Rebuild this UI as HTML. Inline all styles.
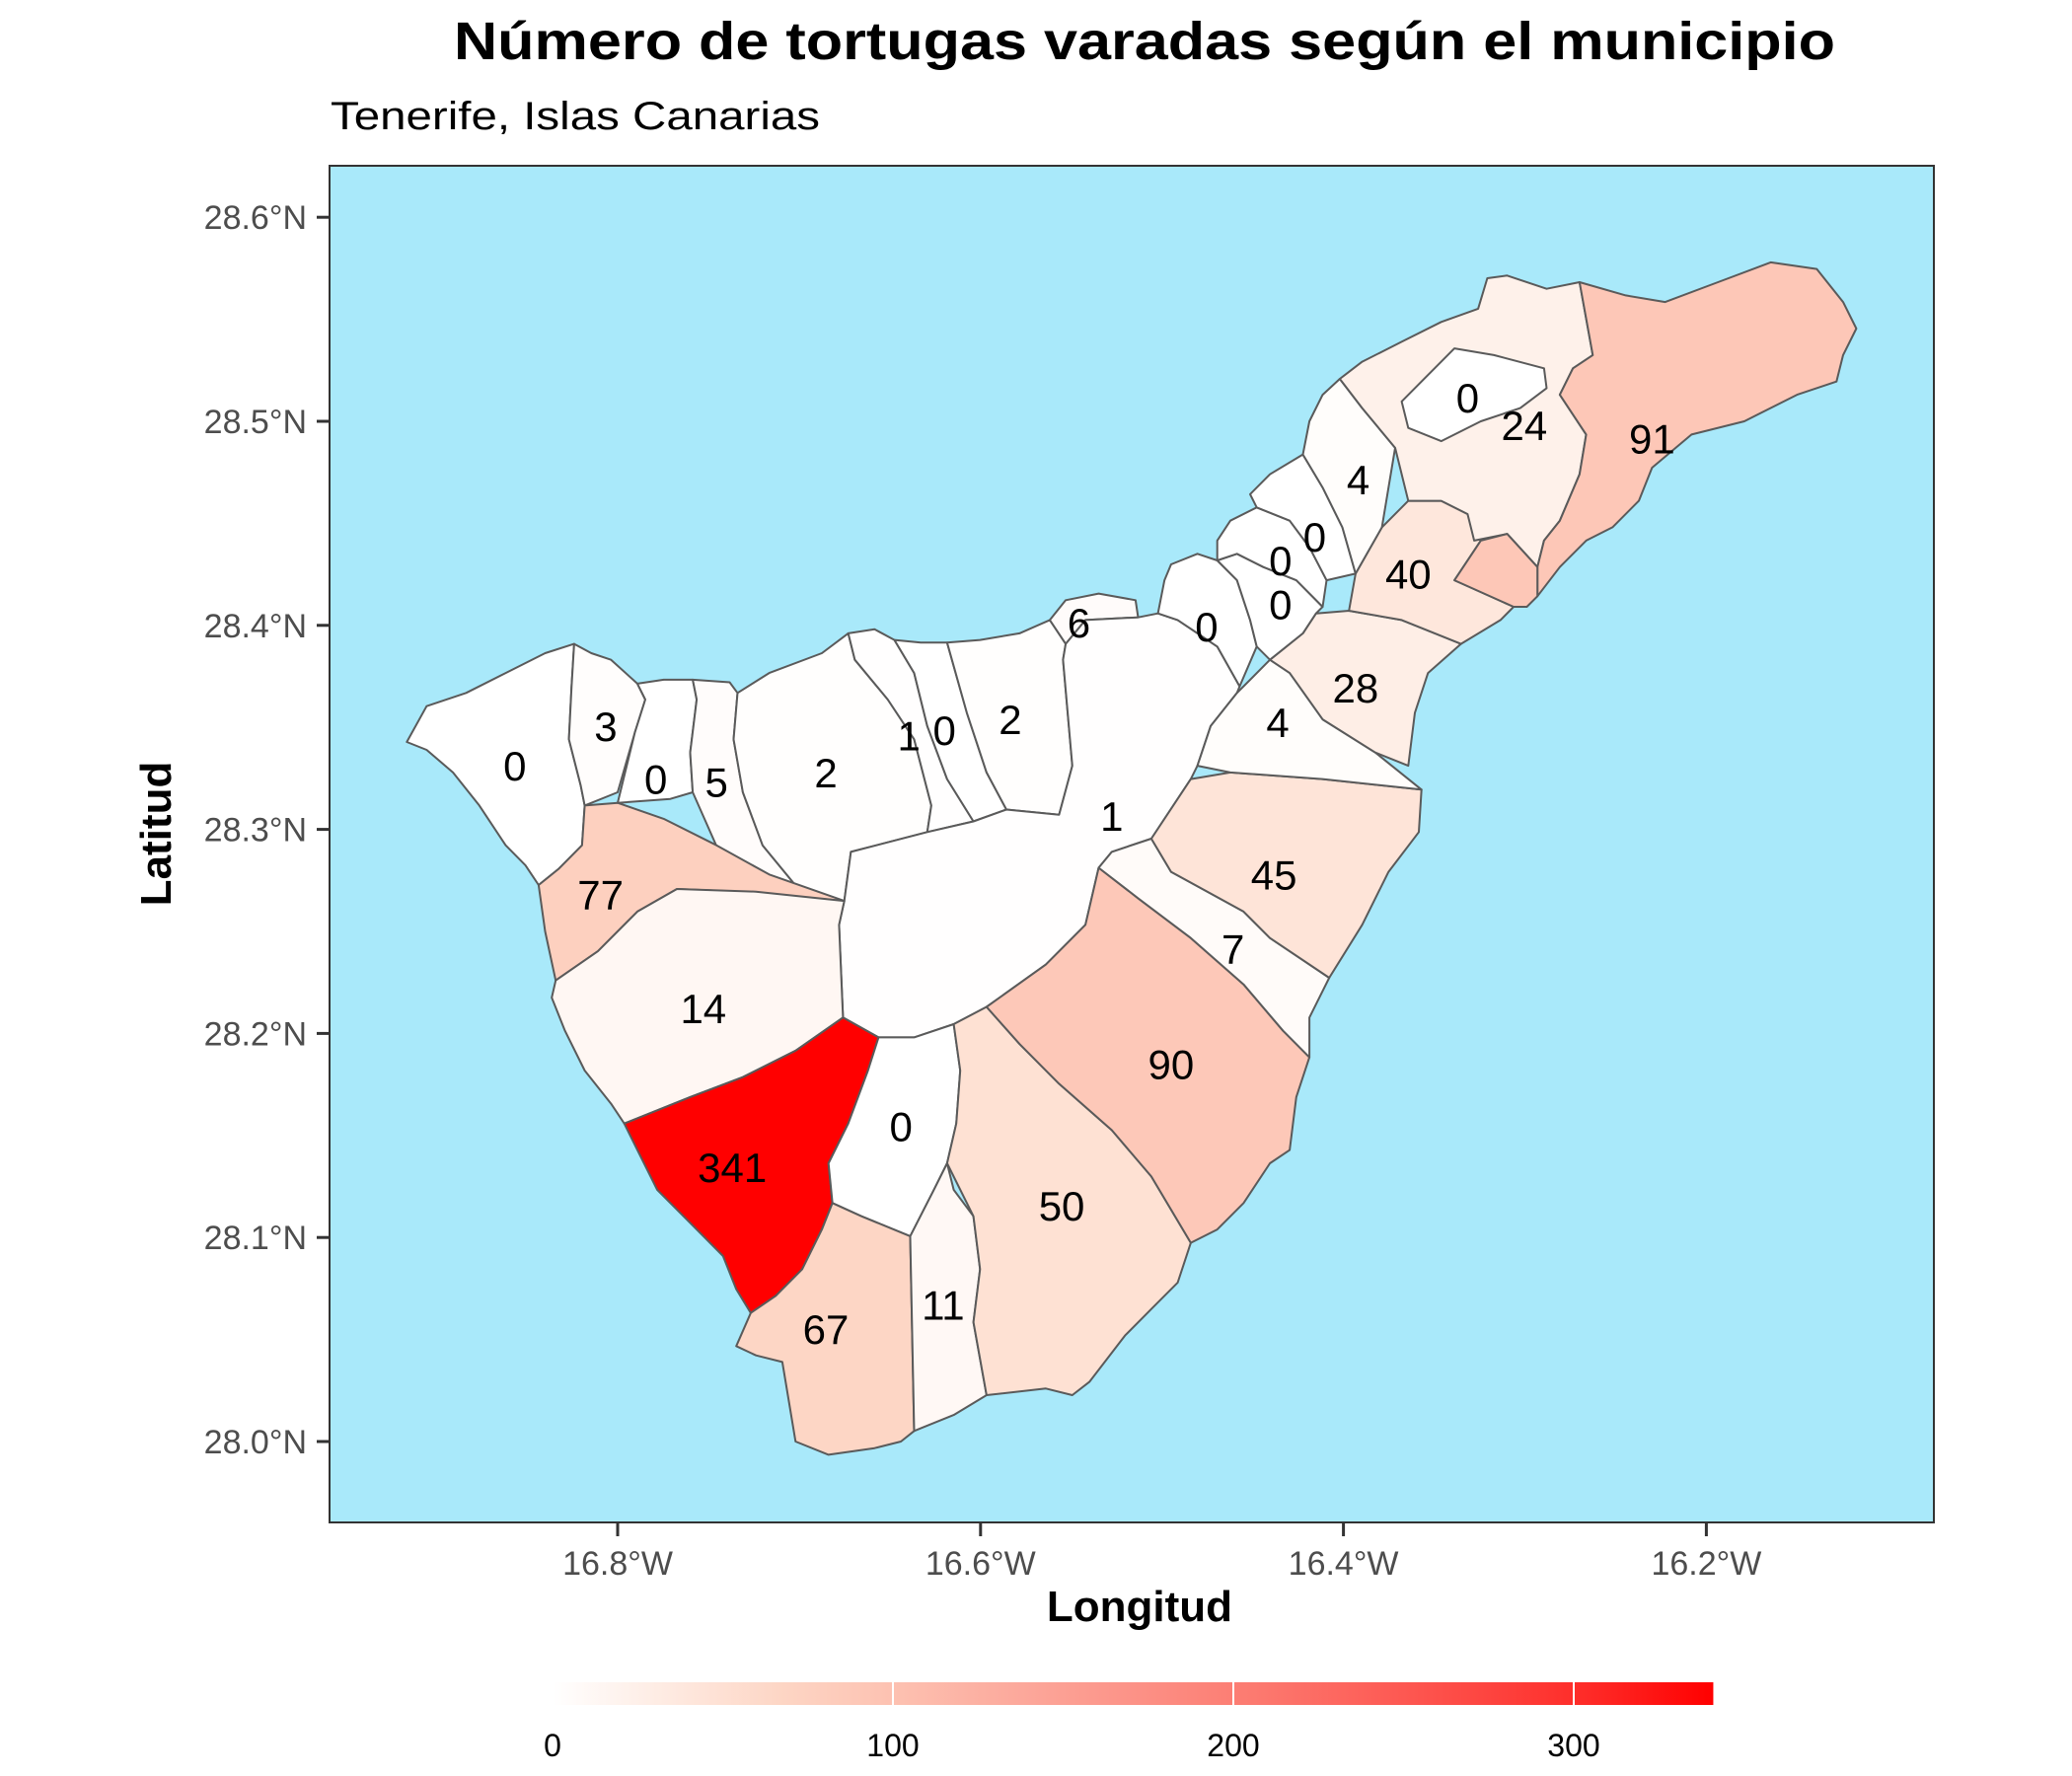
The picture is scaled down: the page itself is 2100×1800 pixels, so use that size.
<!DOCTYPE html>
<html><head><meta charset="utf-8"><style>
html,body{margin:0;padding:0;background:#fff}
svg{display:block}
text{font-family:"Liberation Sans",sans-serif}
</style></head><body>
<svg id="chart" width="2100" height="1800" viewBox="0 0 2100 1800" xmlns="http://www.w3.org/2000/svg">
<text x="1160" y="60" text-anchor="middle" font-size="54" font-weight="bold" textLength="1400" lengthAdjust="spacingAndGlyphs">Número de tortugas varadas según el municipio</text>
<text x="335" y="131" font-size="40" textLength="496" lengthAdjust="spacingAndGlyphs">Tenerife, Islas Canarias</text>
<rect x="334" y="168" width="1626" height="1375" fill="#a9e9fa" stroke="#333" stroke-width="2"/>
<g id="muni"></g>
<g id="labels"></g>
<g id="axes"></g>
<text x="1155" y="1643" text-anchor="middle" font-size="44" font-weight="bold">Longitud</text>
<text transform="translate(173,845) rotate(-90)" text-anchor="middle" font-size="44" font-weight="bold">Latitud</text>
<defs><linearGradient id="lg" x1="0" x2="1" y1="0" y2="0"></linearGradient></defs>
<g id="legend"></g>
</svg>
<script>
// data
const municipalities = ["Buenavista","Los Silos","Garachico","El Tanque","Icod","La Guancha","San Juan Rambla","Los Realejos","Puerto Cruz","La Orotava","Santiago Teide","Guia Isora","Adeje","Vilaflor","Arona","San Miguel","Granadilla","Arico","Fasnia","Guimar","Arafo","Candelaria","El Rosario","Tacoronte","El Sauzal","La Matanza","La Victoria","Santa Ursula","Tegueste","La Laguna","Santa Cruz","Santa Cruz exclave"];
const counts = [0,3,0,5,2,1,0,2,6,1,77,14,341,0,67,11,50,90,7,45,4,28,40,0,0,0,0,4,0,24,91,91];
const showLabel = [1,1,1,1,1,1,1,1,1,1,1,1,1,1,1,1,1,1,1,1,1,1,1,1,1,1,1,1,1,1,1,0];
const lonTicks = [-16.8,-16.6,-16.4,-16.2];
const latTicks = [28.0,28.1,28.2,28.3,28.4,28.5,28.6];
const legendTicks = [0,100,200,300];
const maxCount = 341;

// geometry (traced reference outline, reference pixel space -> lon/lat)
const refLon = d => -16.8 + (d-465)/1377;
const refLat = d => 28 + (1090-d)/1540;
const shapesRef = [
[[305,562],[320,535],[350,525],[380,510],[410,495],[432,488],[430,520],[428,560],[437,595],[440,610],[438,640],[420,658],[405,670],[395,655],[380,640],[360,610],[340,585],[320,568]],
[[432,488],[445,495],[460,500],[480,518],[486,530],[478,555],[465,600],[440,610],[437,595],[428,560],[430,520]],
[[486,530],[480,518],[500,515],[522,515],[525,530],[520,570],[522,600],[505,605],[465,608],[478,555]],
[[525,530],[522,515],[550,517],[556,525],[553,560],[560,600],[575,640],[608,680],[575,668],[542,645],[522,600],[520,570]],
[[556,525],[580,510],[620,495],[640,480],[645,500],[670,530],[690,560],[703,610],[700,630],[642,645],[637,682],[608,680],[575,640],[560,600],[553,560]],
[[640,480],[660,477],[675,485],[690,510],[700,550],[715,590],[735,622],[700,630],[703,610],[690,560],[670,530],[645,500]],
[[675,485],[695,487],[715,487],[730,540],[745,585],[760,613],[735,622],[715,590],[700,550],[690,510]],
[[715,487],[740,485],[770,480],[793,470],[805,488],[803,500],[810,580],[800,617],[760,613],[745,585],[730,540]],
[[793,470],[805,455],[830,450],[858,455],[860,468],[820,470],[805,488]],
[[637,682],[642,645],[700,630],[735,622],[760,613],[800,617],[810,580],[803,500],[805,488],[820,470],[860,468],[875,465],[890,470],[920,490],[937,520],[935,525],[915,550],[905,580],[900,590],[870,635],[840,645],[830,657],[820,700],[790,730],[745,762],[720,775],[690,785],[663,785],[636,770],[633,700]],
[[440,610],[465,608],[500,620],[540,640],[580,662],[637,682],[560,675],[510,673],[480,690],[450,720],[418,742],[410,705],[405,670],[420,658],[438,640]],
[[418,742],[450,720],[480,690],[510,673],[570,675],[637,682],[633,700],[636,770],[600,795],[560,815],[520,830],[470,850],[460,835],[440,810],[425,780],[415,755]],
[[470,850],[520,830],[560,815],[600,795],[636,770],[663,785],[655,810],[640,850],[625,880],[628,910],[620,930],[605,960],[585,980],[566,993],[555,975],[545,950],[520,925],[495,900],[480,870]],
[[663,785],[690,785],[720,775],[725,810],[722,850],[715,880],[705,900],[687,935],[650,920],[628,910],[625,880],[640,850],[655,810]],
[[628,910],[650,920],[687,935],[690,1082],[680,1090],[660,1095],[625,1100],[600,1090],[595,1060],[590,1030],[570,1025],[555,1018],[566,993],[585,980],[605,960],[620,930]],
[[687,935],[705,900],[715,880],[720,900],[735,920],[740,960],[735,1000],[745,1055],[720,1070],[695,1080],[690,1082]],
[[720,775],[745,762],[770,790],[800,820],[840,855],[870,890],[900,940],[890,970],[870,990],[850,1010],[823,1045],[810,1055],[790,1050],[745,1055],[735,1000],[740,960],[735,920],[715,880],[722,850],[725,810]],
[[745,762],[790,730],[820,700],[830,657],[860,680],[900,710],[940,745],[970,780],[990,800],[980,830],[975,870],[960,880],[940,910],[920,930],[900,940],[870,890],[840,855],[800,820],[770,790]],
[[830,657],[840,645],[870,635],[885,660],[940,690],[960,710],[1005,740],[990,770],[990,800],[970,780],[940,745],[900,710],[860,680]],
[[870,635],[900,590],[930,585],[1000,590],[1075,598],[1073,630],[1050,660],[1030,700],[1005,740],[960,710],[940,690],[885,660]],
[[905,580],[915,550],[935,525],[960,500],[975,510],[1000,545],[1040,570],[1075,598],[1000,590],[930,585]],
[[960,500],[985,480],[995,465],[1020,463],[1060,470],[1105,488],[1080,510],[1070,540],[1065,580],[1040,570],[1000,545],[975,510]],
[[1065,380],[1090,380],[1110,390],[1120,410],[1100,440],[1145,460],[1135,470],[1105,488],[1060,470],[1020,463],[1025,435],[1045,400]],
[[875,465],[880,440],[885,428],[905,420],[920,425],[935,440],[945,470],[950,490],[937,520],[920,490],[890,470]],
[[920,425],[935,420],[955,430],[980,440],[1000,460],[995,465],[985,480],[960,500],[950,490],[945,470],[935,440]],
[[920,410],[930,395],[950,385],[975,395],[990,415],[1003,440],[1000,460],[980,440],[955,430],[935,420],[920,425]],
[[945,375],[960,360],[985,345],[1000,370],[1015,400],[1025,435],[1003,440],[990,415],[975,395],[950,385]],
[[985,345],[990,320],[1000,300],[1013,288],[1030,310],[1055,340],[1050,370],[1045,400],[1025,435],[1015,400],[1000,370]],
[[1065,325],[1060,305],[1085,280],[1100,265],[1130,270],[1168,280],[1170,295],[1150,310],[1120,320],[1090,335]],
[[1013,288],[1030,275],[1060,260],[1090,245],[1118,235],[1125,212],[1140,210],[1170,220],[1195,215],[1205,270],[1190,280],[1180,300],[1200,330],[1195,360],[1180,395],[1168,410],[1163,430],[1140,405],[1115,410],[1110,390],[1090,380],[1065,380],[1055,340],[1030,310]],
[[1195,215],[1230,225],[1260,230],[1300,215],[1340,200],[1375,205],[1395,230],[1405,250],[1395,270],[1390,290],[1360,300],[1320,320],[1280,330],[1250,355],[1240,380],[1220,400],[1200,410],[1180,430],[1163,452],[1163,430],[1168,410],[1180,395],[1195,360],[1200,330],[1180,300],[1190,280],[1205,270]],
[[1100,440],[1120,410],[1140,405],[1163,430],[1163,452],[1155,460],[1145,460]]
];
const labelRef = [[387,580],[456,550],[494,590],[540,592],[623,585],[686,557],[713,553],[763,545],[815,472],[840,618],[452,677],[530,763],[552,883],[680,852],[623,1005],[712,987],[802,912],[885,805],[932,718],[963,662],[966,547],[1025,521],[1065,435],[912,475],[968,458],[968,425],[994,407],[1027,364],[1110,302],[1153,323],[1250,333],[1130,435]];
const drawOrder = [0,1,2,3,4,5,6,7,8,9,10,11,12,13,14,15,16,17,18,19,20,21,22,23,24,25,26,27,29,30,31,28];
const shapes = shapesRef.map(s => s.map(p => [refLon(p[0]), refLat(p[1])]));
const labels = labelRef.map(p => [refLon(p[0]), refLat(p[1])]);

// axis functions
const xS = lon => 626 + (lon + 16.8) * 1839;
const yS = lat => 1461 - (lat - 28.0) * 2068;
const fill = v => {
  const t = Math.max(0, Math.min(1, v / maxCount));
  const g = 255 * Math.pow(1 - t, 0.8);
  const r = 255 - 3 * Math.sin(Math.PI * t);
  const b = g * (1 - 0.08 * Math.min(1, t * 5));
  return `rgb(${Math.round(r)},${Math.round(g)},${Math.round(b)})`;
};
const NS = "http://www.w3.org/2000/svg";
const muni = document.getElementById('muni');
const lab = document.getElementById('labels');
drawOrder.forEach(i => {
  const m = municipalities[i];
  const s = shapes[i];
  const p = document.createElementNS(NS, 'polygon');
  p.setAttribute('points', s.map(q => xS(q[0]).toFixed(1) + ',' + yS(q[1]).toFixed(1)).join(' '));
  p.setAttribute('fill', fill(counts[i]));
  p.setAttribute('stroke', '#5a5a5a');
  p.setAttribute('stroke-width', '2');
  p.setAttribute('stroke-linejoin', 'round');
  
  
  muni.appendChild(p);
});
municipalities.forEach((m, i) => {
  if (!showLabel[i]) return;
  const L = labels[i];
  const t = document.createElementNS(NS, 'text');
  t.setAttribute('x', xS(L[0]));
  t.setAttribute('y', yS(L[1]) + 15);
  t.setAttribute('text-anchor', 'middle');
  t.setAttribute('font-size', '42');
  t.textContent = counts[i];
  
  
  lab.appendChild(t);
});
const ax = document.getElementById('axes');
lonTicks.forEach(v => {
  const x = xS(v);
  const l = document.createElementNS(NS, 'line');
  l.setAttribute('x1', x); l.setAttribute('x2', x); l.setAttribute('y1', 1544); l.setAttribute('y2', 1557);
  l.setAttribute('stroke', '#333'); l.setAttribute('stroke-width', '3');
  
  
  ax.appendChild(l);
  const t = document.createElementNS(NS, 'text');
  t.setAttribute('x', x); t.setAttribute('y', 1596); t.setAttribute('text-anchor', 'middle');
  t.setAttribute('font-size', '34'); t.setAttribute('fill', '#4d4d4d');
  t.textContent = Math.abs(v).toFixed(1) + '°W';
  
  
  ax.appendChild(t);
});
latTicks.forEach(v => {
  const y = yS(v);
  const l = document.createElementNS(NS, 'line');
  l.setAttribute('x1', 321); l.setAttribute('x2', 333); l.setAttribute('y1', y); l.setAttribute('y2', y);
  l.setAttribute('stroke', '#333'); l.setAttribute('stroke-width', '3');
  
  
  ax.appendChild(l);
  const t = document.createElementNS(NS, 'text');
  t.setAttribute('x', 311); t.setAttribute('y', y + 12); t.setAttribute('text-anchor', 'end');
  t.setAttribute('font-size', '34'); t.setAttribute('fill', '#4d4d4d');
  t.textContent = v.toFixed(1) + '°N';
  
  
  ax.appendChild(t);
});
// legend
const lx = v => 560 + v * 3.45;
const lg = document.getElementById('lg');
for (let k = 0; k <= 10; k++) {
  const st = document.createElementNS(NS, 'stop');
  st.setAttribute('offset', k / 10);
  st.setAttribute('stop-color', fill(maxCount * k / 10));
  lg.appendChild(st);
}
const leg = document.getElementById('legend');
const bar = document.createElementNS(NS, 'rect');
bar.setAttribute('x', lx(0)); bar.setAttribute('y', 1705); bar.setAttribute('width', lx(maxCount) - lx(0)); bar.setAttribute('height', 23);
bar.setAttribute('fill', 'url(#lg)');


leg.appendChild(bar);
legendTicks.forEach(v => {
  if (v > 0) {
    const l = document.createElementNS(NS, 'line');
    l.setAttribute('x1', lx(v)); l.setAttribute('x2', lx(v)); l.setAttribute('y1', 1705); l.setAttribute('y2', 1728);
    l.setAttribute('stroke', '#fff'); l.setAttribute('stroke-width', '2');
    
    
    leg.appendChild(l);
  }
  const t = document.createElementNS(NS, 'text');
  t.setAttribute('x', lx(v)); t.setAttribute('y', 1780); t.setAttribute('text-anchor', 'middle');
  t.setAttribute('font-size', '32');
  t.textContent = v;
  
  
  leg.appendChild(t);
});
</script>
</body></html>
